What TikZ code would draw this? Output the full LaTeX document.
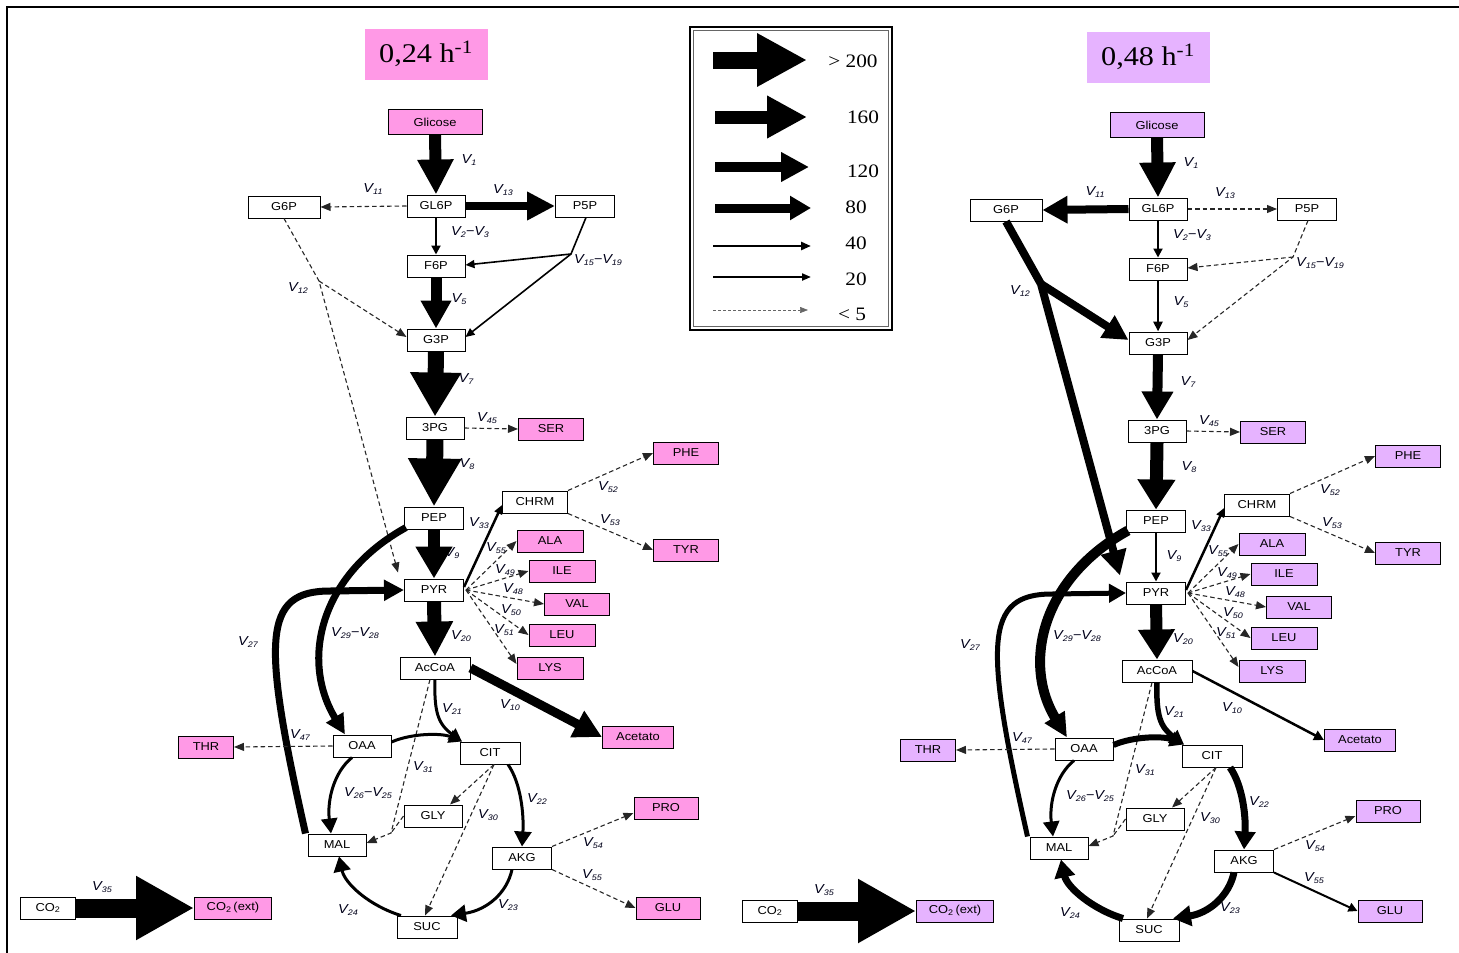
\documentclass[tikz,border=0pt]{standalone}
\usepackage{fontspec}
\setmainfont{Liberation Sans}[FakeStretch=1.12]
\newfontfamily\serifrm{Liberation Serif}[FakeStretch=1.12]
\usetikzlibrary{arrows.meta}
\definecolor{pinkM}{RGB}{255,153,230}
\definecolor{lilac}{RGB}{230,179,255}
\newcommand\Vs[1]{V\raisebox{-2.5pt}{\fontsize{8}{8}\selectfont #1}}
\tikzset{
 box/.style={draw, line width=1pt, fill=white, minimum height=22pt, inner sep=0pt, font=\fontsize{11.5}{12}\selectfont},
 met/.style={box, fill=pinkM},
 ttl/.style={fill=pinkM},
 lab/.style={font=\fontsize{13}{13}\selectfont\itshape, inner sep=0pt, text=black!90!blue},
 arr/.style n args={3}{draw=black, line width=#1, -{Triangle[length=#2,width=#3]}},
 dsh/.style={draw=black!85, line width=1.1pt, dash pattern=on 4.5pt off 3pt, -{Triangle[length=10pt,width=8pt]}},
}
\newcommand\pathnodes[1]{%
 \node[ttl, minimum width=123pt, minimum height=51pt, inner sep=0pt, font=\serifrm\fontsize{27}{27}\selectfont] (title) at (426,54) {#1 h\textsuperscript{-1}};
 \node[met, minimum width=94pt, minimum height=25pt] (gl) at (435,122) {Glicose};
 \node[box, minimum width=58pt] (gl6p) at (436,206) {GL6P};
 \node[box, minimum width=72pt] (g6p) at (284,207) {G6P};
 \node[box, minimum width=59pt] (p5p) at (585,206) {P5P};
 \node[box, minimum width=58pt] (f6p) at (436,266) {F6P};
 \node[box, minimum width=58pt] (g3p) at (436,340) {G3P};
 \node[box, minimum width=58pt] (pg3) at (435,428) {3PG};
 \node[met, minimum width=65pt] (ser) at (551,429) {SER};
 \node[box, minimum width=59pt] (pep) at (434,518) {PEP};
 \node[box, minimum width=59pt] (pyr) at (434,590) {PYR};
 \node[box, minimum width=65pt] (chrm) at (535,502) {CHRM};
 \node[met, minimum width=65pt] (phe) at (686,453) {PHE};
 \node[met, minimum width=65pt] (tyr) at (686,550) {TYR};
 \node[met, minimum width=66pt] (ala) at (550,541) {ALA};
 \node[met, minimum width=66pt] (ile) at (562,571) {ILE};
 \node[met, minimum width=65pt] (val) at (577,604) {VAL};
 \node[met, minimum width=66pt] (leu) at (562,635) {LEU};
 \node[met, minimum width=66pt] (lys) at (550,668) {LYS};
 \node[box, minimum width=70pt] (acc) at (435,668) {AcCoA};
 \node[met, minimum width=71pt] (ace) at (638,737) {Acetato};
 \node[box, minimum width=58pt] (oaa) at (362,746) {OAA};
 \node[met, minimum width=55pt] (thr) at (206,747) {THR};
 \node[box, minimum width=60pt] (cit) at (490,753) {CIT};
 \node[box, minimum width=58pt] (gly) at (433,816) {GLY};
 \node[box, minimum width=58pt] (mal) at (337,845) {MAL};
 \node[box, minimum width=59pt] (akg) at (522,858) {AKG};
 \node[met, minimum width=64pt] (pro) at (666,808) {PRO};
 \node[met, minimum width=64pt] (glu) at (668,908) {GLU};
 \node[box, minimum width=60pt] (suc) at (427,927) {SUC};
 \node[box, minimum width=55pt] (co2) at (48,908) {CO\textsubscript{2}};
 \node[met, minimum width=77pt] (co2x) at (233,908) {CO\textsubscript{2}\,(ext)};
 % labels
 \node[lab] (l1) at (469,160) {\Vs{1}};
 \node[lab] (l11) at (373,189) {\Vs{11}};
 \node[lab] (l13) at (503,190) {\Vs{13}};
 \node[lab] (l2) at (470,232) {\Vs{2}−\Vs{3}};
 \node[lab] (l15) at (598,260) {\Vs{15}−\Vs{19}};
 \node[lab] (l12) at (298,288) {\Vs{12}};
 \node[lab] (l5) at (459,299) {\Vs{5}};
 \node[lab] (l7) at (466,379) {\Vs{7}};
 \node[lab] (l45) at (487,418) {\Vs{45}};
 \node[lab] (l8) at (467,464) {\Vs{8}};
 \node[lab] (l52) at (608,487) {\Vs{52}};
 \node[lab] (l53) at (610,520) {\Vs{53}};
 \node[lab] (l33) at (479,523) {\Vs{33}};
 \node[lab] (l9) at (452,553) {\Vs{9}};
 \node[lab] (l55a) at (496,548) {\Vs{55}};
 \node[lab] (l49) at (505,570) {\Vs{49}};
 \node[lab] (l48) at (513,589) {\Vs{48}};
 \node[lab] (l50) at (511,610) {\Vs{50}};
 \node[lab] (l51) at (504,630) {\Vs{51}};
 \node[lab] (l20) at (461,636) {\Vs{20}};
 \node[lab] (l27) at (248,642) {\Vs{27}};
 \node[lab] (l29) at (355,633) {\Vs{29}−\Vs{28}};
 \node[lab] (l10) at (510,705) {\Vs{10}};
 \node[lab] (l21) at (452,709) {\Vs{21}};
 \node[lab] (l47) at (300,735) {\Vs{47}};
 \node[lab] (l31) at (423,767) {\Vs{31}};
 \node[lab] (l26) at (368,793) {\Vs{26}−\Vs{25}};
 \node[lab] (l22) at (537,799) {\Vs{22}};
 \node[lab] (l30) at (488,815) {\Vs{30}};
 \node[lab] (l54) at (593,843) {\Vs{54}};
 \node[lab] (l55) at (592,875) {\Vs{55}};
 \node[lab] (l35) at (102,887) {\Vs{35}};
 \node[lab] (l24) at (348,910) {\Vs{24}};
 \node[lab] (l23) at (508,905) {\Vs{23}};
}
\newcommand\pathedges{%
 \draw[e1] (gl.south) -- (gl6p.north);
 \draw[e11] (gl6p.west) -- (g6p.east);
 \draw[e13] (gl6p.east) -- (p5p.west);
 \draw[e2] (gl6p.south) -- (f6p.north);
 \coordinate (b15) at (571,254);
 \draw[e15] ([xshift=1pt]p5p.south) -- (b15) -- ([yshift=3pt]g3p.east);
 \draw[e15] (b15) -- ([yshift=1pt]f6p.east);
 \coordinate (b12) at (319,281);
 \draw[e12] (g6p.south) -- (b12) -- ([xshift=-6pt,yshift=6pt]pyr.north west);
 \draw[e12] (b12) -- ([yshift=3pt]g3p.west);
 \draw[e5] (f6p.south) -- (g3p.north);
 \draw[e7] (g3p.south) -- (pg3.north);
 \draw[e45] (pg3.east) -- (ser.west);
 \draw[e8] (pg3.south) -- (pep.north);
 \draw[e9] (pep.south) -- (pyr.north);
 \draw[e20] (pyr.south) -- (acc.north);
 \draw[e33] ([yshift=3pt]pyr.east) -- ([yshift=-3pt]chrm.west);
 \draw[e52] (chrm.north east) -- (phe.west);
 \draw[e53] (chrm.south east) -- (tyr.west);
 \coordinate (fan) at ([xshift=2pt]pyr.east);
 \draw[eaa] (fan) -- (ala.west);
 \draw[eaa] (fan) -- (ile.west);
 \draw[eaa] (fan) -- (val.west);
 \draw[eaa] (fan) -- (leu.west);
 \draw[eaa] (fan) -- ([yshift=4pt]lys.west);
 \draw[e10] (acc.east) -- (ace.west);
 \coordinate (j31) at (391,833);
 \draw[e31] ([xshift=-5pt]acc.south) -- (j31) -- ([yshift=2pt]mal.east);
 \draw[e31,-] (gly.west) -- (j31);
 \coordinate (c30) at ([xshift=4pt]cit.south);
 \draw[e30] (c30) -- ([xshift=17pt]gly.north);
 \draw[e30] (c30) -- ([xshift=-2pt]suc.north);
 \draw[e21] (acc.south) .. controls (434,712) and (438,724) .. ([xshift=-28pt]cit.north);
 \draw[eoc] ([yshift=4pt]oaa.east) .. controls (412,733) and (442,733) .. ([xshift=-28pt]cit.north);
 \draw[e22] ([xshift=18pt]cit.south) .. controls (521,783) and (524,815) .. (akg.north);
 \draw[e23] ([xshift=-10pt]akg.south) .. controls (507,893) and (487,910) .. ([xshift=24pt]suc.north);
 \draw[e24] ([xshift=-26pt]suc.north) .. controls (370,906) and (345,884) .. ([xshift=2pt]mal.south);
 \draw[e26] ([xshift=-10pt]oaa.south) .. controls (334,772) and (327,800) .. ([xshift=-6pt]mal.north);
 \draw[e29] ([xshift=2pt,yshift=2pt]pep.south west) .. controls (320,575) and (300,660) .. ([xshift=-17pt]oaa.north);
 \draw[e27] ([xshift=-2pt]mal.north west) .. controls (262,640) and (262,591) .. (330,591) -- (pyr.west);
 \draw[e47] (oaa.west) -- (thr.east);
 \draw[e54] (akg.north east) -- ([yshift=-5pt]pro.west);
 \draw[e55] (akg.south east) -- (glu.west);
 \draw[e35] (co2.east) -- (co2x.west);
}
\begin{document}
\begin{tikzpicture}[x=1pt,y=-1pt]
\useasboundingbox (0,0) rectangle (1459,953);
\draw[line width=2pt] (7,953) -- (7,7) -- (1459,7);
% legend
\draw[line width=1.3pt] (690,27) rectangle (892,330);
\draw[line width=0.6pt, black!60] (693.5,30.5) rectangle (888.5,326.5);
\tikzset{lg/.style={font=\serifrm\fontsize{19}{19}\selectfont, inner sep=0pt}}
\coordinate (a1) at (713,60); \coordinate (b1) at (807,60);
\coordinate (a2) at (715,117); \coordinate (b2) at (807,117);
\coordinate (a3) at (715,167); \coordinate (b3) at (809,167);
\coordinate (a4) at (715,208); \coordinate (b4) at (811,208);
\coordinate (a5) at (713,246); \coordinate (b5) at (811,246);
\coordinate (a6) at (713,277); \coordinate (b6) at (811,277);
\coordinate (a7) at (713,310); \coordinate (b7) at (808,310);
\draw[arr={17pt}{50pt}{50pt}] (a1) -- (b1);
\draw[arr={13pt}{40pt}{40pt}] (a2) -- (b2);
\draw[arr={10pt}{28pt}{28pt}] (a3) -- (b3);
\draw[arr={9pt}{21pt}{23pt}] (a4) -- (b4);
\draw[arr={2.5pt}{10pt}{8pt}] (a5) -- (b5);
\draw[arr={2pt}{9pt}{7pt}] (a6) -- (b6);
\draw[black!60, line width=0.6pt, dash pattern=on 3pt off 2pt, -{Triangle[length=8pt,width=6pt]}] (a7) -- (b7);
\node[lg] (t1) at (853,61) {> 200};
\node[lg] (t2) at (863,117) {160};
\node[lg] (t3) at (863,171) {120};
\node[lg] (t4) at (856,207) {80};
\node[lg] (t5) at (856,243) {40};
\node[lg] (t6) at (856,279) {20};
\node[lg] (t7) at (852,314) {< 5};
% left diagram
\begin{scope}[name prefix=L-,
  met/.style={box, fill=pinkM}, ttl/.style={fill=pinkM},
  e1/.style={arr={12pt}{35pt}{34pt}},
  e11/.style={dsh}, e13/.style={arr={8pt}{28pt}{27pt}},
  e2/.style={arr={2pt}{9pt}{9pt}}, e15/.style={arr={1.6pt}{9pt}{8pt}},
  e12/.style={dsh}, e5/.style={arr={11pt}{28pt}{29pt}},
  e7/.style={arr={16pt}{44pt}{48pt}}, e45/.style={dsh},
  e8/.style={arr={17pt}{48pt}{50pt}}, e9/.style={arr={12pt}{32pt}{35pt}},
  e20/.style={arr={14pt}{35pt}{35pt}}, e33/.style={arr={2.5pt}{9pt}{8pt}},
  e52/.style={dsh}, e53/.style={dsh}, eaa/.style={dsh},
  e10/.style={arr={9pt}{28pt}{28pt}},
  e31/.style={dsh}, e30/.style={dsh},
  e21/.style={arr={3pt}{13pt}{13pt}}, eoc/.style={arr={3pt}{13pt}{13pt}},
  e22/.style={arr={3pt}{15pt}{17pt}}, e23/.style={arr={3pt}{15pt}{17pt}},
  e24/.style={arr={3pt}{15pt}{17pt}}, e26/.style={arr={3pt}{15pt}{16pt}},
  e29/.style={arr={7pt}{20pt}{19pt}}, e27/.style={arr={7pt}{20pt}{20pt}},
  e47/.style={dsh}, e54/.style={dsh}, e55/.style={dsh},
  e35/.style={arr={19pt}{58pt}{60pt}}]
\pathnodes{0,24}
\pathedges
\end{scope}
% right diagram
\begin{scope}[shift={(722,3)}, name prefix=R-,
  met/.style={box, fill=lilac}, ttl/.style={fill=lilac},
  e1/.style={arr={12pt}{35pt}{34pt}},
  e11/.style={arr={8pt}{25pt}{26pt}}, e13/.style={dsh},
  e2/.style={arr={2pt}{9pt}{9pt}}, e15/.style={dsh},
  e12/.style={arr={8pt}{25pt}{25pt}}, e5/.style={arr={2.5pt}{10pt}{9pt}},
  e7/.style={arr={10pt}{28pt}{30pt}}, e45/.style={dsh},
  e8/.style={arr={13pt}{30pt}{36pt}}, e9/.style={arr={2pt}{9pt}{9pt}},
  e20/.style={arr={12pt}{30pt}{35pt}}, e33/.style={arr={2.5pt}{9pt}{8pt}},
  e52/.style={dsh}, e53/.style={dsh}, eaa/.style={dsh},
  e10/.style={arr={2.5pt}{10pt}{10pt}},
  e31/.style={dsh}, e30/.style={dsh},
  e21/.style={arr={5.5pt}{14pt}{15pt}}, eoc/.style={arr={6pt}{14pt}{15pt}},
  e22/.style={arr={7pt}{18pt}{20pt}}, e23/.style={arr={7pt}{18pt}{20pt}},
  e24/.style={arr={7pt}{18pt}{20pt}}, e26/.style={arr={3pt}{15pt}{16pt}},
  e29/.style={arr={10pt}{24pt}{22pt}}, e27/.style={arr={5pt}{17pt}{18pt}},
  e47/.style={dsh}, e54/.style={dsh}, e55/.style={arr={2pt}{9pt}{9pt}},
  e35/.style={arr={19pt}{58pt}{60pt}}]
\pathnodes{0,48}
\pathedges
\end{scope}
\end{tikzpicture}
\end{document}
